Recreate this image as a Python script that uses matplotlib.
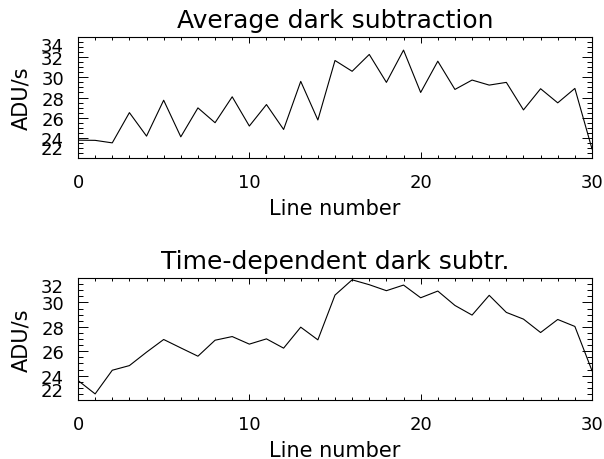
import matplotlib
matplotlib.use('Agg')
import matplotlib.pyplot as plt
from matplotlib.ticker import MultipleLocator

line_no = list(range(31))
avg_dark = [23.77, 23.75, 23.5, 26.5, 24.17, 27.73, 24.1, 26.97, 25.5, 28.07,
            25.17, 27.3, 24.83, 29.6, 25.77, 31.67, 30.6, 32.27, 29.5, 32.7,
            28.5, 31.6, 28.8, 29.73, 29.23, 29.5, 26.77, 28.87, 27.47, 28.9,
            22.9]
time_dark = [23.6, 22.5, 24.44, 24.82, 25.92, 26.96, 26.27, 25.59, 26.9, 27.2,
             26.58, 27.01, 26.25, 27.97, 26.93, 30.6, 31.85, 31.45, 30.96, 31.42,
             30.38, 30.93, 29.75, 28.96, 30.58, 29.18, 28.63, 27.53, 28.6, 28.03,
             24.4]

titles = ['Average dark subtraction', 'Time-dependent dark subtr.']
y_ranges = [(22, 34), (22, 32)]
x_label = 'Line number'
y_label = 'ADU/s'

plt.rcParams['font.family'] = 'DejaVu Sans'

fig = plt.figure(figsize=(6.04, 4.6), dpi=100)
boxes = [[78/604, 1-159/460, 514/604, 121/460],
         [78/604, 1-401/460, 514/604, 122/460]]

for box, title, series, yr in zip(boxes, titles, [avg_dark, time_dark], y_ranges):
	ax = fig.add_axes(box)
	ax.plot(line_no, series, color='black', linewidth=0.8)
	ax.set_xlim(0, 30)
	ax.set_ylim(*yr)
	ax.xaxis.set_major_locator(MultipleLocator(10))
	ax.xaxis.set_minor_locator(MultipleLocator(1))
	ax.yaxis.set_major_locator(MultipleLocator(2))
	ax.yaxis.set_minor_locator(MultipleLocator(0.5))
	ax.tick_params(axis='both', which='both', direction='in', top=True, right=True,
	               width=0.7, labelsize=13, colors='black')
	ax.tick_params(axis='x', which='major', length=4, pad=11)
	ax.tick_params(axis='x', which='minor', length=2)
	ax.tick_params(axis='y', which='major', length=7.5, pad=10)
	ax.tick_params(axis='y', which='minor', length=3.7)
	for sp in ax.spines.values():
		sp.set_linewidth(0.8)
	ax.set_title(title, fontsize=18, pad=7)
	ax.set_xlabel(x_label, fontsize=15, labelpad=5)
	ax.set_ylabel(y_label, fontsize=15, va='center')
	ax.yaxis.set_label_coords(-0.111, 0.5)
	# end labels are pushed inside the box like the original
	fig.canvas.draw()
	yt = ax.yaxis.get_major_ticks()
	vals = ax.get_yticks()
	for t, v in zip(yt, vals):
		if abs(v - yr[1]) < 1e-6:
			t.label1.set_va('top')
		elif abs(v - yr[0]) < 1e-6:
			t.label1.set_va('bottom')

fig.savefig('out.png', dpi=100, facecolor='white')
